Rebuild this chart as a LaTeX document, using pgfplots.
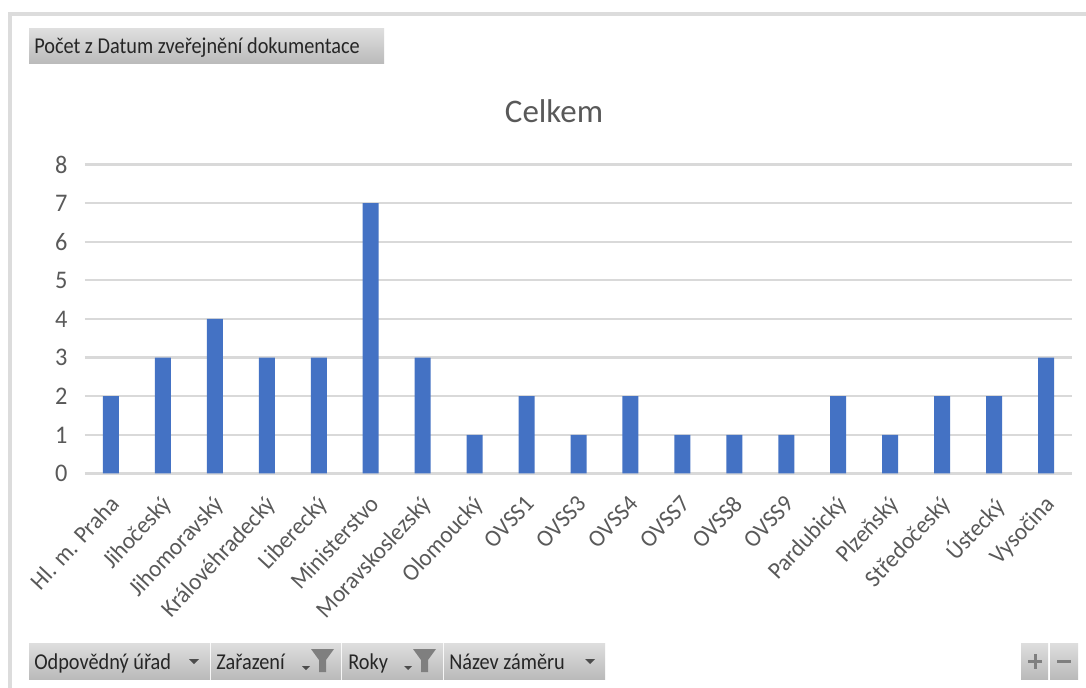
\documentclass[border=0pt]{standalone}
\usepackage{fontspec}
\setmainfont{Carlito}
\newfontfamily\btnfont[FakeStretch=0.895]{Carlito}
\newfontfamily\tickfont[FakeStretch=0.96]{Carlito}
\usepackage{pgfplots}
\pgfplotsset{compat=1.18}
\definecolor{barblue}{HTML}{4472C4}
\definecolor{gridgray}{HTML}{D9D9D9}
\definecolor{labgray}{HTML}{595959}
\definecolor{framegray}{HTML}{DCDCDC}
\definecolor{btntop}{HTML}{DEDEDE}
\definecolor{btnbot}{HTML}{BABABA}
\definecolor{icon}{HTML}{7F7F7F}
% field button: x0,y0,x1,y1
\newcommand{\btn}[4]{\shade[top color=btntop,bottom color=btnbot] (#1,#2) rectangle (#3,#4);}
\begin{document}
\begin{tikzpicture}
\begin{scope}[x=0.75pt,y=-0.75pt]
\path[use as bounding box,fill=white] (0,0) rectangle (1086,688);
\draw[framegray,line width=2.4pt] (1086,14) -- (10,14) -- (10,688);
\end{scope}
\begin{axis}[
    at={(63.75pt,-355.1pt)}, anchor=south west,
    scale only axis,
    width=740.25pt, height=231.75pt,
    ybar, bar width=12pt,
    xmin=-0.5, xmax=18.5, ymin=0, ymax=8,
    xtick=data,
    xticklabels={Hl. m. Praha,Jihočeský,Jihomoravský,Královéhradecký,Liberecký,Ministerstvo,Moravskoslezský,Olomoucký,OVSS1,OVSS3,OVSS4,OVSS7,OVSS8,OVSS9,Pardubický,Plzeňský,Středočeský,Ústecký,Vysočina},
    ytick={0,...,8},
    ymajorgrids,
    grid style={gridgray,line width=1.7pt},
    axis line style={draw=none},
    tick style={draw=none},
    /pgf/number format/assume math mode=true,
    ticklabel style={text=labgray},
    xticklabel style={font=\tickfont\fontsize{18pt}{20pt}\selectfont,rotate=47,anchor=north east,inner sep=0pt,yshift=-6pt,xshift=-9.5pt},
    yticklabel style={font=\tickfont\fontsize{19pt}{20pt}\selectfont,inner sep=0pt,xshift=-13pt},
]
\addplot[fill=barblue,draw=none] coordinates {(0,2) (1,3) (2,4) (3,3) (4,3) (5,7) (6,3) (7,1) (8,2) (9,1) (10,2) (11,1) (12,1) (13,1) (14,2) (15,1) (16,2) (17,2) (18,3)};
\end{axis}
\begin{scope}[x=0.75pt,y=-0.75pt]
\node[text=labgray,font=\fontsize{24.7pt}{26pt}\selectfont,inner sep=0pt] at (554,111) {Celkem};
\btn{29}{29}{384}{64}
\btn{29}{643}{210}{679}
\btn{211}{643}{341}{679}
\btn{342}{643}{443}{679}
\btn{444}{643}{605}{679}
\btn{1021}{643}{1048}{679}
\btn{1050}{643}{1078}{679}
\begin{scope}[every node/.style={anchor=base west,inner sep=0pt,text=black!85,font=\btnfont\fontsize{17pt}{18pt}\selectfont}]
\node at (34,54) {Počet z Datum zveřejnění dokumentace};
\node at (34,669) {Odpovědný úřad};
\node at (216,669) {Zařazení};
\node at (348,669) {Roky};
\node at (449,669) {Název záměru};
\end{scope}
% dropdown arrows
\fill[black!70] (189,659) -- (199,659) -- (194,664) -- cycle;
\fill[black!70] (585,659) -- (595,659) -- (590,664) -- cycle;
\fill[black!70] (302,666) -- (310,666) -- (306,670) -- cycle;
\fill[black!70] (404,666) -- (412,666) -- (408,670) -- cycle;
% filter icons
\fill[icon] (311,649) -- (334,649) -- (326,660) -- (326,672) -- (319,672) -- (319,660) -- cycle;
\fill[icon] (413,649) -- (436,649) -- (428,660) -- (428,672) -- (421,672) -- (421,660) -- cycle;
% plus and minus
\fill[icon] (1028,659.5) rectangle (1042,662.5);
\fill[icon] (1033.5,654) rectangle (1036.5,669);
\fill[icon] (1057,659.5) rectangle (1071,662.5);
\end{scope}
\end{tikzpicture}
\end{document}
